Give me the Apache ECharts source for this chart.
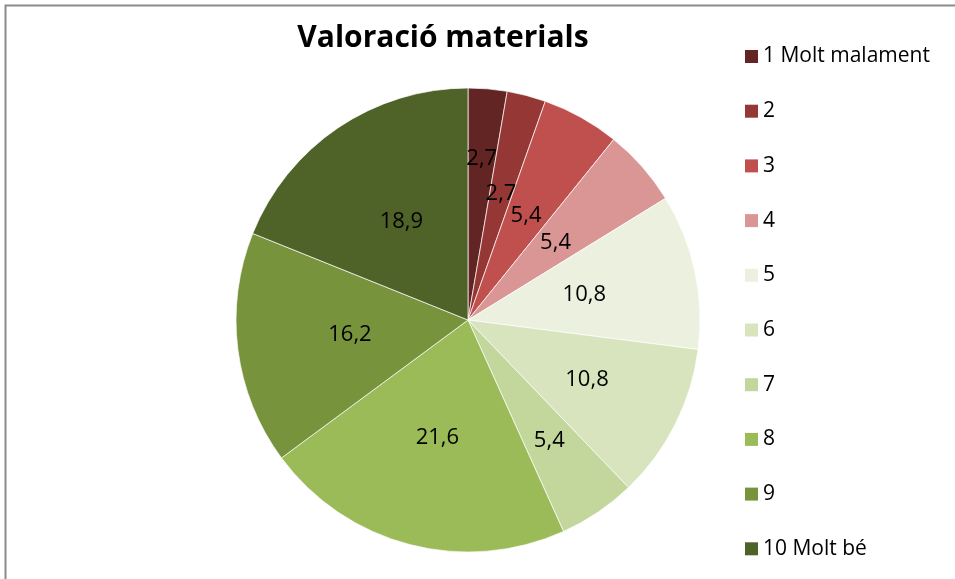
<!DOCTYPE html>
<html>
<head>
<meta charset="utf-8">
<title>Valoració materials</title>
<script src="https://cdn.jsdelivr.net/npm/echarts@6/dist/echarts.min.js"></script>
<style>
    html, body { margin: 0; padding: 0; background: #fff; }
    #main { width: 955px; height: 579px; }
</style>
</head>
<body>
<div id="main"></div>
<script>
// dades del gràfic
var categories = ['1 Molt malament', '2', '3', '4', '5', '6', '7', '8', '9', '10 Molt bé'];
var values = [2.7, 2.7, 5.4, 5.4, 10.8, 10.8, 5.4, 21.6, 16.2, 18.9];
var colors = ['#632523', '#953735', '#C0504D', '#D99694', '#EBF1DE',
              '#D7E4BD', '#C3D69B', '#9BBB59', '#77933C', '#4F6228'];
// distància de l'etiqueta respecte al radi (com ho col·loca Excel)
var labelRatio = [0.68, 0.55, 0.50, 0.49, 0.50, 0.56, 0.61, 0.51, 0.50, 0.50];

(function () {
    var myChart = echarts.init(document.getElementById('main'));
    var cx = 468, cy = 320, R = 232;

    var option = {
        backgroundColor: '#fff',
        color: colors,
        title: {
            text: 'Valoració materials',
            left: 443,
            top: 23,
            padding: 0,
            textAlign: 'center',
            textStyle: {
                fontFamily: 'Open Sans',
                fontWeight: 'bold',
                fontSize: 30,
                color: '#000'
            }
        },
        legend: {
            orient: 'vertical',
            left: 745,
            top: 46,
            padding: 0,
            itemWidth: 13,
            itemHeight: 13,
            itemGap: 33.7,
            icon: 'rect',
            itemStyle: { borderWidth: 0 },
            data: categories,
            textStyle: {
                fontFamily: 'Open Sans',
                fontSize: 21,
                lineHeight: 21,
                color: '#000'
            }
        },
        // marc gris del gràfic
        graphic: [{
            type: 'rect',
            shape: { x: 5.5, y: 5.5, width: 1000, height: 1000 },
            style: { fill: null, stroke: '#8c8c8c', lineWidth: 2 },
            silent: true
        }],
        series: [{
            type: 'pie',
            center: [cx, cy],
            radius: R,
            startAngle: 90,
            clockwise: true,
            avoidLabelOverlap: false,
            animation: false,
            itemStyle: {
                borderColor: '#fff',
                borderWidth: 0.7
            },
            label: {
                show: true,
                position: 'inside',
                fontFamily: 'Open Sans',
                fontSize: 22,
                color: '#000',
                formatter: function (p) {
                    return String(p.value).replace('.', ',');
                }
            },
            labelLine: { show: false },
            emphasis: { disabled: true },
            labelLayout: function (params) {
                var r = params.labelRect;
                var lx = r.x + r.width / 2;
                var ly = r.y + r.height / 2;
                var k = labelRatio[params.dataIndex] / 0.5;
                return {
                    x: cx + (lx - cx) * k,
                    y: cy + (ly - cy) * k
                };
            },
            data: categories.map(function (name, i) {
                return { name: name, value: values[i] };
            })
        }]
    };

    myChart.setOption(option);
})();
</script>
</body>
</html>
